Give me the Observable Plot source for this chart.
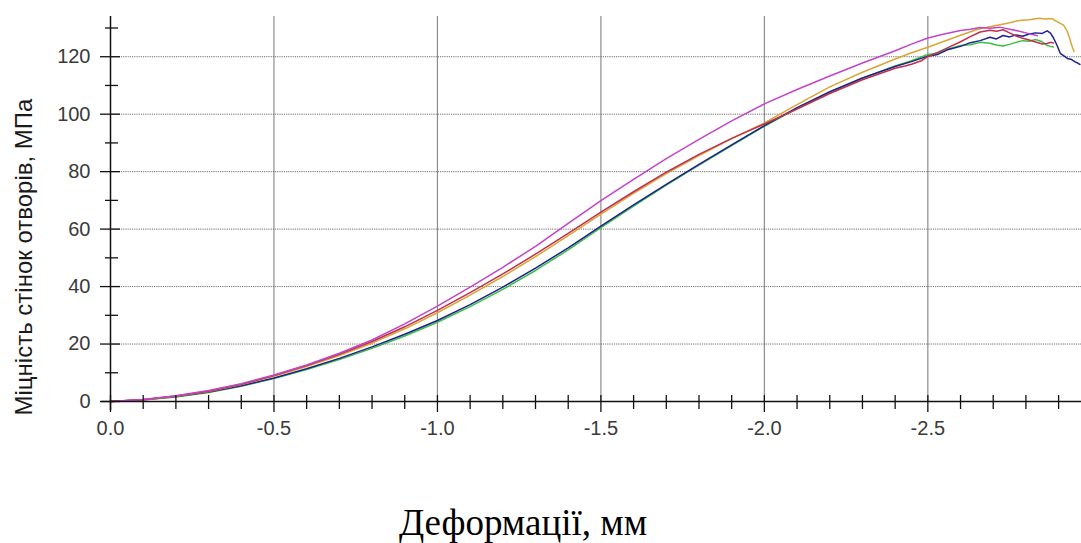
<!DOCTYPE html>
<html><head><meta charset="utf-8">
<script src="https://cdn.jsdelivr.net/npm/d3@7"></script>
<script src="https://cdn.jsdelivr.net/npm/@observablehq/plot@0.6"></script>
<style>html,body{margin:0;padding:0;background:#fff} svg{display:block}</style>
</head><body><div id="chart"></div>
<script>
// Shared strain grid (mm) for the smooth part of every curve
const baseStrain = [0,-0.1,-0.2,-0.3,-0.4,-0.5,-0.6,-0.7,-0.8,-0.9,-1.0,-1.1,-1.2,-1.3,-1.4,-1.5,-1.6,-1.7,-1.8,-1.9,-2.0,-2.1,-2.2,-2.3,-2.4];

const magentaBase = [0,0.7,2.0,3.8,6.2,9.2,12.7,16.8,21.4,27.0,33.2,39.8,46.7,54.0,62.0,69.9,77.3,84.5,91.2,97.7,103.6,108.6,113.3,117.8,122.1];
const magentaTailX = [-2.45,-2.5,-2.55,-2.6,-2.63,-2.66,-2.69,-2.72,-2.75,-2.78,-2.8,-2.82,-2.835];
const magentaTailY = [124.4,126.5,127.9,129.1,129.6,130.2,129.9,130.3,129.6,128.9,128.3,127.7,127.3];

const redBase = [0,0.7,1.9,3.6,6.0,9.0,12.5,16.4,20.9,26.0,31.7,37.9,44.4,51.3,58.5,65.9,73.0,79.8,86.0,91.6,96.6,101.8,107.2,112.0,116.0];
const redTailX = [-2.43,-2.45,-2.48,-2.5,-2.53,-2.56,-2.6,-2.63,-2.66,-2.69,-2.71,-2.73,-2.75,-2.77,-2.79,-2.81,-2.83,-2.85,-2.865,-2.875,-2.884];
const redTailY = [116.8,117.4,118.6,120.0,121.5,123.1,125.2,127.0,128.6,129.2,128.9,129.4,128.3,127.2,126.4,125.8,125.1,124.4,124.6,125.0,124.8];

const orangeBase = [0,0.6,1.8,3.5,5.9,8.8,12.2,16.0,20.3,25.3,30.9,37.0,43.5,50.4,57.7,65.2,72.4,79.3,85.6,91.5,97.0,103.3,109.5,114.6,119.2];
const orangeTailX = [-2.45,-2.5,-2.55,-2.6,-2.65,-2.7,-2.74,-2.78,-2.81,-2.84,-2.86,-2.88,-2.895,-2.905,-2.915,-2.925,-2.932,-2.938,-2.943,-2.947];
const orangeTailY = [121.4,123.3,125.4,127.5,129.5,130.7,131.6,132.6,132.9,133.4,133.1,133.3,132.2,131.6,131.0,129.2,127.0,124.8,123.0,121.8];

const greenBase = [0,0.5,1.6,3.1,5.3,8.0,11.1,14.6,18.5,22.8,27.6,33.0,39.0,45.6,52.8,60.5,68.0,75.3,82.3,89.1,95.8,102.0,107.6,112.5,116.8];
const greenTailX = [-2.45,-2.5,-2.53,-2.56,-2.6,-2.63,-2.66,-2.69,-2.71,-2.73,-2.75,-2.77,-2.79,-2.81,-2.83,-2.85,-2.865,-2.875,-2.884];
const greenTailY = [118.6,120.8,121.2,122.6,123.9,124.2,125.0,124.7,124.1,123.7,124.3,125.0,125.6,125.4,126.0,125.2,123.9,123.6,123.4];

const navyBase = [0,0.6,1.7,3.3,5.5,8.2,11.4,15.0,19.0,23.4,28.2,33.7,39.8,46.4,53.5,61.0,68.4,75.6,82.5,89.3,96.0,102.3,107.8,112.6,116.6];
const navyTailX = [-2.45,-2.5,-2.53,-2.56,-2.6,-2.63,-2.66,-2.69,-2.71,-2.73,-2.75,-2.77,-2.79,-2.81,-2.83,-2.85,-2.865,-2.875,-2.884,-2.895,-2.905,-2.915,-2.927,-2.94,-2.95,-2.957,-2.965];
const navyTailY = [118.3,120.2,120.8,122.4,123.6,124.9,125.6,126.8,126.2,127.4,126.9,127.6,127.1,127.9,128.3,128.1,129.0,128.2,126.6,124.0,121.2,120.4,119.4,119.0,118.2,117.9,117.3];

const seriesNames = ["Зразок 1","Зразок 2","Зразок 3","Зразок 4","Зразок 5"];
const seriesColors = ["#3cc040","#1c2290","#d8a636","#c0304c","#c244c8"];

const xMajorTicks = [0,-0.5,-1.0,-1.5,-2.0,-2.5];
const xMinorTicks = [-0.1,-0.2,-0.3,-0.4,-0.6,-0.7,-0.8,-0.9,-1.1,-1.2,-1.3,-1.4,-1.6,-1.7,-1.8,-1.9,-2.1,-2.2,-2.3,-2.4,-2.6,-2.7,-2.8,-2.9];
const yMajorTicks = [0,20,40,60,80,100,120];
const yMinorTicks = [10,30,50,70,90,110,130];
const yGridLines = [20,40,60,80,100,120];

const xTitle = "Деформації, мм";
const yTitle = "Міцність стінок отворів, МПа";

const series = [
  {name: seriesNames[0], x: baseStrain.concat(greenTailX), y: greenBase.concat(greenTailY)},
  {name: seriesNames[1], x: baseStrain.concat(navyTailX), y: navyBase.concat(navyTailY)},
  {name: seriesNames[2], x: baseStrain.concat(orangeTailX), y: orangeBase.concat(orangeTailY)},
  {name: seriesNames[3], x: baseStrain.concat(redTailX), y: redBase.concat(redTailY)},
  {name: seriesNames[4], x: baseStrain.concat(magentaTailX), y: magentaBase.concat(magentaTailY)}
];
const rows = series.flatMap(s => s.x.map((x, i) => ({name: s.name, strain: x, stress: s.y[i]})));

const chart = Plot.plot({
  width: 1081,
  height: 543,
  marginLeft: 110,
  marginRight: 0,
  marginTop: 16,
  marginBottom: 142,
  style: {fontFamily: "'Liberation Sans', Arial, sans-serif", background: "#fff"},
  x: {domain: [0, -2.97], label: null},
  y: {domain: [0, 134], label: null},
  color: {type: "ordinal", domain: seriesNames, range: seriesColors},
  marks: [
    Plot.ruleX(xMajorTicks.filter(d => d !== 0), {stroke: "#8c8c8c", strokeWidth: 1.2}),
    Plot.ruleY(yGridLines, {stroke: "#6e6e6e", strokeWidth: 1, strokeDasharray: "1.2,1"}),
    Plot.line(rows, {x: "strain", y: "stress", z: "name", stroke: "name", strokeWidth: 1.5, curve: "linear"}),
    Plot.ruleY([0], {stroke: "#111", strokeWidth: 1.5, insetLeft: -9}),
    Plot.ruleX([0], {stroke: "#111", strokeWidth: 1.5, insetBottom: -9}),
    Plot.axisX({ticks: xMajorTicks, tickSize: 17, dy: -6, fill: "none", stroke: "#111", strokeWidth: 1.3, label: null}),
    Plot.axisX({ticks: xMinorTicks, tickSize: 14, dy: -6, fill: "none", stroke: "#111", strokeWidth: 1.3, label: null}),
    Plot.axisX({ticks: xMajorTicks, tickSize: 0, tickPadding: 19, fontSize: 20, fill: "#3a3a3a", tickFormat: d => d.toFixed(1), label: null}),
    Plot.axisY({ticks: yMajorTicks, tickSize: 20, dx: 10, fill: "none", stroke: "#111", strokeWidth: 1.3, label: null}),
    Plot.axisY({ticks: yMinorTicks, tickSize: 13, dx: 8, fill: "none", stroke: "#111", strokeWidth: 1.3, label: null}),
    Plot.axisY({ticks: yMajorTicks, tickSize: 0, tickPadding: 20, fontSize: 20, fill: "#3a3a3a", label: null}),
    Plot.text([yTitle], {frameAnchor: "left", textAnchor: "middle", rotate: -90, dx: -86, dy: 48, lineAnchor: "middle", fontSize: 24, fill: "#1a1a1a", fontFamily: "'Liberation Sans', Arial, sans-serif"}),
    Plot.text([xTitle], {frameAnchor: "bottom", textAnchor: "middle", dx: -73, dy: 122, lineAnchor: "middle", fontSize: 37, fill: "#000", fontFamily: "'Liberation Serif', 'Times New Roman', serif"})
  ]
});
document.getElementById("chart").appendChild(chart);
</script>
</body></html>
